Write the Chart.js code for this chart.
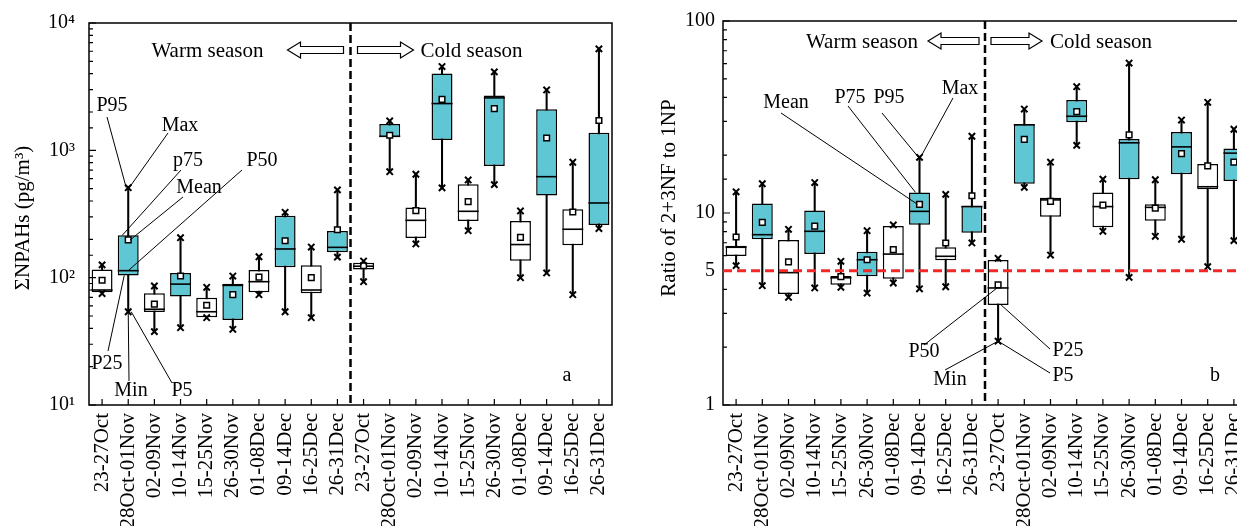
<!DOCTYPE html>
<html>
<head>
<meta charset="utf-8">
<script src="https://cdn.jsdelivr.net/npm/chart.js@4.4.1/dist/chart.umd.min.js"></script>
<style>
  html, body { margin: 0; padding: 0; background: #fff; overflow: hidden; }
  #wrap { position: relative; width: 1237px; height: 526px; overflow: hidden; }
  #chartA { position: absolute; left: 0; top: 0; }
  #chartB { position: absolute; left: 625px; top: 0; }
</style>
</head>
<body>
<div id="wrap">
  <canvas id="chartA" width="625" height="526"></canvas>
  <canvas id="chartB" width="640" height="526"></canvas>
</div>
<script>
/* Sampling periods — warm season first, then cold season */
const PERIODS = [
  '23-27Oct', '28Oct-01Nov', '02-09Nov', '10-14Nov', '15-25Nov',
  '26-30Nov', '01-08Dec', '09-14Dec', '16-25Dec', '26-31Dec',
  '23-27Oct', '28Oct-01Nov', '02-09Nov', '10-14Nov', '15-25Nov',
  '26-30Nov', '01-08Dec', '09-14Dec', '16-25Dec', '26-31Dec',
];

/* (a) ΣNPAHs, pg/m3 */
const SUM_MIN  = [75, 54, 37.7, 40.5, 48.5, 39.3, 73.5, 54, 48.5, 145,
                  93, 680, 184, 507, 234, 538, 100, 109, 73.5, 243];
const SUM_P25  = [76.8, 104, 53.8, 71, 48.9, 46.5, 76.8, 121, 75.4, 158,
                  116, 1268, 205, 1207, 279, 754, 136, 441, 180, 259];
const SUM_P50  = [80, 113.5, 56.5, 89, 54, 87, 93, 168, 80, 173,
                  123, 1290, 282, 2329, 332, 2582, 182, 621, 240, 386];
const SUM_P75  = [116, 215, 75.4, 109, 69.7, 89.7, 115, 307, 125, 233,
                  131, 1611, 355, 4009, 541, 2692, 279, 2104, 344, 1377];
const SUM_MAX  = [126, 509, 86, 206, 84, 103, 146, 326, 174, 489,
                  135, 1702, 649, 4549, 585, 4132, 334, 2979, 806, 6266];
const SUM_MEAN = [95.5, 198, 62, 103, 60.7, 73.5, 101, 195, 100, 238,
                  124, 1313, 336, 2516, 395, 2128, 207, 1250, 328, 1714];

/* (b) ratio of 2+3NF to 1NP */
const RAT_MIN  = [5.32, 4.18, 3.64, 4.07, 4.1, 3.83, 4.32, 4.03, 4.13, 6.98,
                  2.15, 13.6, 6.04, 22.5, 8.03, 4.62, 7.56, 7.3, 5.25, 7.18];
const RAT_P25  = [5.97, 7.3, 3.79, 6.11, 4.23, 4.68, 4.55, 8.69, 5.67, 7.89,
                  3.32, 14.2, 9.57, 29.7, 8.42, 15.0, 9.12, 15.9, 13.3, 14.7];
const RAT_P50  = [6.63, 7.71, 4.89, 8.03, 4.6, 5.71, 6.11, 10.2, 5.95, 10.8,
                  4.07, 28.8, 11.7, 31.9, 10.8, 23.2, 10.7, 22.1, 13.7, 20.5];
const RAT_P75  = [6.76, 11.2, 7.23, 10.3, 4.7, 6.29, 8.55, 12.8, 6.63, 10.9,
                  5.69, 29.1, 12.0, 38.8, 12.8, 24.3, 11.1, 26.4, 18.0, 21.7];
const RAT_MAX  = [12.9, 14.2, 8.22, 14.4, 5.6, 8.09, 8.67, 19.5, 12.5, 25.1,
                  5.81, 34.8, 18.4, 45.5, 15.0, 60.4, 14.9, 30.5, 37.7, 27.3];
const RAT_MEAN = [7.5, 8.94, 5.56, 8.55, 4.66, 5.71, 6.44, 11.1, 6.98, 12.3,
                  4.22, 24.2, 11.5, 33.7, 11.0, 25.5, 10.6, 20.4, 17.6, 18.4];
const RATIO_LIMIT = 5;

const SERIF = "'Liberation Serif', 'Times New Roman', serif";
const TEAL  = '#5fc7d3';
const SUPERSCRIPT = { 10: '10\u00b9', 100: '10\u00b2', 1000: '10\u00b3', 10000: '10\u2074' };

/* Hollow block arrow, tip at xt, tail at xe */
function blockArrow(ctx, xt, xe, y) {
  const dir = xe > xt ? 1 : -1;
  const hl = 13 * dir, hh = 8, sh = 3.5;
  ctx.beginPath();
  ctx.moveTo(xt, y);
  ctx.lineTo(xt + hl, y - hh);
  ctx.lineTo(xt + hl, y - sh);
  ctx.lineTo(xe, y - sh);
  ctx.lineTo(xe, y + sh);
  ctx.lineTo(xt + hl, y + sh);
  ctx.lineTo(xt + hl, y + hh);
  ctx.closePath();
  ctx.fillStyle = '#fff';
  ctx.fill();
  ctx.lineWidth = 1.2;
  ctx.strokeStyle = '#000';
  ctx.stroke();
}

/* Frame, inward ticks, season divider, callouts */
const decorPlugin = {
  id: 'decor',
  afterDatasetsDraw(chart) {
    const d = chart.config.options.plugins.decor;
    const { ctx, chartArea: a, scales: { x, y } } = chart;
    ctx.save();

    /* frame */
    ctx.strokeStyle = '#000';
    ctx.lineWidth = 1.5;
    ctx.setLineDash([]);
    ctx.strokeRect(a.left, a.top, a.right - a.left, a.bottom - a.top);

    /* inward ticks */
    ctx.lineWidth = 1.2;
    ctx.beginPath();
    y.ticks.forEach(t => {
      const py = y.getPixelForValue(t.value);
      const lg = Math.log10(t.value);
      const len = Math.abs(lg - Math.round(lg)) < 1e-6 ? 7 : 4;
      ctx.moveTo(a.left, py);
      ctx.lineTo(a.left + len, py);
    });
    PERIODS.forEach((_, i) => {
      const px = x.getPixelForValue(i);
      ctx.moveTo(px, a.bottom);
      ctx.lineTo(px, a.bottom - 6);
    });
    ctx.stroke();

    /* optional red reference line */
    if (d.limit) {
      const py = y.getPixelForValue(d.limit);
      ctx.strokeStyle = '#f02828';
      ctx.lineWidth = 3;
      ctx.setLineDash([9, 5]);
      ctx.beginPath();
      ctx.moveTo(a.left, py);
      ctx.lineTo(a.right, py);
      ctx.stroke();
    }

    /* warm / cold divider */
    const xd = (x.getPixelForValue(9) + x.getPixelForValue(10)) / 2;
    ctx.strokeStyle = '#000';
    ctx.lineWidth = 2.5;
    ctx.setLineDash([8, 4]);
    ctx.beginPath();
    ctx.moveTo(xd, a.top);
    ctx.lineTo(xd, a.bottom);
    ctx.stroke();
    ctx.setLineDash([]);

    /* season labels with arrows */
    const s = d.season;
    blockArrow(ctx, xd + s.tipL, xd + s.endL, s.ya);
    blockArrow(ctx, xd + s.tipR, xd + s.endR, s.ya);
    ctx.fillStyle = '#000';
    ctx.font = `21px ${SERIF}`;
    ctx.textBaseline = 'alphabetic';
    ctx.textAlign = 'right';
    ctx.fillText('Warm season', xd + s.warm, s.yt);
    ctx.textAlign = 'left';
    ctx.fillText('Cold season', xd + s.cold, s.yt);

    /* callouts */
    ctx.font = `20px ${SERIF}`;
    ctx.textAlign = 'center';
    ctx.textBaseline = 'middle';
    ctx.lineWidth = 1;
    d.callouts.forEach(c => {
      ctx.fillText(c.text, c.tx, c.ty);
      ctx.beginPath();
      ctx.moveTo(c.lx, c.ly);
      ctx.lineTo(x.getPixelForValue(c.idx) + (c.dx || 0), y.getPixelForValue(c.val));
      ctx.stroke();
    });

    /* panel letter */
    ctx.fillText(d.letter.text, d.letter.x, d.letter.y);

    /* y title */
    ctx.font = `21px ${SERIF}`;
    ctx.translate(d.title.x, d.title.y);
    ctx.rotate(-Math.PI / 2);
    ctx.fillText(d.title.text, 0, 0);
    ctx.restore();
  }
};

function boxChart(canvasId, cfg) {
  const fills = PERIODS.map((_, i) => (i % 2 ? TEAL : '#ffffff'));
  const marker = (data, order) => ({
    type: 'line', data, showLine: false, order,
    pointStyle: 'crossRot', pointRadius: 4.5,
    pointBorderColor: '#000', pointBorderWidth: 2,
  });
  return new Chart(document.getElementById(canvasId), {
    type: 'bar',
    data: {
      labels: PERIODS,
      datasets: [
        { /* whisker min..max */
          type: 'bar', data: cfg.min.map((v, i) => [v, cfg.max[i]]),
          backgroundColor: '#000', barThickness: 1.4, grouped: false, order: 6,
        },
        { /* box P25..P75 */
          type: 'bar', data: cfg.p25.map((v, i) => [v, cfg.p75[i]]),
          backgroundColor: fills, borderColor: '#000', borderWidth: 1.5,
          borderSkipped: false, barPercentage: 0.8, categoryPercentage: 1,
          grouped: false, order: 5,
        },
        { /* median */
          type: 'line', data: cfg.p50, showLine: false, order: 4,
          pointStyle: 'line', pointRadius: 10.5,
          pointBorderColor: '#000', pointBorderWidth: 1.6,
        },
        { /* mean */
          type: 'line', data: cfg.mean, showLine: false, order: 3,
          pointStyle: 'rect', pointRadius: 4,
          pointBackgroundColor: '#fff', pointBorderColor: '#000', pointBorderWidth: 1.5,
        },
        marker(cfg.min, 2),
        marker(cfg.max, 1),
      ],
    },
    options: {
      responsive: false,
      animation: false,
      events: [],
      layout: { padding: cfg.padding },
      plugins: {
        legend: { display: false },
        tooltip: { enabled: false },
        decor: cfg.decor,
      },
      scales: {
        x: {
          grid: { display: false, drawTicks: false },
          border: { display: false },
          ticks: {
            autoSkip: false, maxRotation: 90, minRotation: 90, padding: 8,
            color: '#000', font: { family: SERIF, size: 21 },
          },
          afterFit: s => {
            s.height = 121;
            s.paddingLeft = 0;
            s.paddingRight = 0;
          },
        },
        y: {
          type: 'logarithmic', min: cfg.yMin, max: cfg.yMax,
          grid: { display: false, drawTicks: false },
          border: { display: false },
          ticks: {
            autoSkip: false, padding: cfg.tickPad,
            color: '#000', font: { family: SERIF, size: 20 },
            callback: cfg.tickLabel,
          },
          afterFit: s => {
            s.width = cfg.axisW;
            s.paddingTop = 0;
            s.paddingBottom = 0;
          },
        },
      },
    },
    plugins: [decorPlugin],
  });
}

/* ── Panel a ── */
boxChart('chartA', {
  min: SUM_MIN, p25: SUM_P25, p50: SUM_P50, p75: SUM_P75, max: SUM_MAX, mean: SUM_MEAN,
  yMin: 10, yMax: 10000, axisW: 89, tickPad: 14,
  padding: { top: 23, right: 13, left: 0, bottom: 0 },
  tickLabel: v => SUPERSCRIPT[Math.round(v)] || '',
  decor: {
    season: { ya: 50, yt: 57, tipL: -63, endL: -7, tipR: 63, endR: 7, warm: -87, cold: 70 },
    title: { text: '\u03a3NPAHs (pg/m\u00b3)', x: 23, y: 218 },
    letter: { text: 'a', x: 567, y: 376 },
    callouts: [
      { text: 'P95',  tx: 112, ty: 106, lx: 107, ly: 117, idx: 1, val: SUM_MAX[1], dx: -2 },
      { text: 'Max',  tx: 180, ty: 126, lx: 168, ly: 133, idx: 1, val: SUM_MAX[1], dx: 1 },
      { text: 'p75',  tx: 188, ty: 161, lx: 181, ly: 170, idx: 1, val: SUM_P75[1], dx: -6 },
      { text: 'Mean', tx: 199, ty: 188, lx: 183, ly: 197, idx: 1, val: SUM_MEAN[1], dx: 2 },
      { text: 'P50',  tx: 262, ty: 161, lx: 242, ly: 170, idx: 1, val: SUM_P50[1], dx: 0 },
      { text: 'P25',  tx: 107, ty: 364, lx: 108, ly: 351, idx: 1, val: SUM_P25[1], dx: -4 },
      { text: 'Min',  tx: 131, ty: 391, lx: 129, ly: 381, idx: 1, val: SUM_MIN[1], dx: 0 },
      { text: 'P5',   tx: 182, ty: 391, lx: 172, ly: 383, idx: 1, val: SUM_MIN[1], dx: 3 },
    ],
  },
});

/* ── Panel b ── */
boxChart('chartB', {
  min: RAT_MIN, p25: RAT_P25, p50: RAT_P50, p75: RAT_P75, max: RAT_MAX, mean: RAT_MEAN,
  yMin: 1, yMax: 100, axisW: 98, tickPad: 8,
  padding: { top: 21, right: 18, left: 0, bottom: 0 },
  tickLabel: v => ([1, 5, 10, 100].includes(Math.round(v * 1000) / 1000) ? String(Math.round(v)) : ''),
  decor: {
    limit: RATIO_LIMIT,
    season: { ya: 41, yt: 48, tipL: -57, endL: -6, tipR: 57, endR: 6, warm: -67, cold: 65 },
    title: { text: 'Ratio of 2+3NF to 1NP', x: 44, y: 198 },
    letter: { text: 'b', x: 590, y: 376 },
    callouts: [
      { text: 'Mean', tx: 161, ty: 103, lx: 156, ly: 113, idx: 7, val: RAT_MEAN[7], dx: -2 },
      { text: 'P75',  tx: 225, ty: 98,  lx: 223, ly: 106, idx: 7, val: RAT_P75[7], dx: -4 },
      { text: 'P95',  tx: 264, ty: 98,  lx: 257, ly: 113, idx: 7, val: RAT_MAX[7], dx: -1 },
      { text: 'Max',  tx: 335, ty: 89,  lx: 328, ly: 98,  idx: 7, val: RAT_MAX[7], dx: 1 },
      { text: 'P50',  tx: 299, ty: 352, lx: 299, ly: 345, idx: 10, val: RAT_P50[10], dx: -1 },
      { text: 'Min',  tx: 325, ty: 380, lx: 320, ly: 370, idx: 10, val: RAT_MIN[10], dx: 0 },
      { text: 'P25',  tx: 443, ty: 351, lx: 425, ly: 349, idx: 10, val: RAT_P25[10], dx: 3 },
      { text: 'P5',   tx: 438, ty: 376, lx: 425, ly: 373, idx: 10, val: RAT_MIN[10], dx: 0 },
    ],
  },
});
</script>
</body>
</html>
